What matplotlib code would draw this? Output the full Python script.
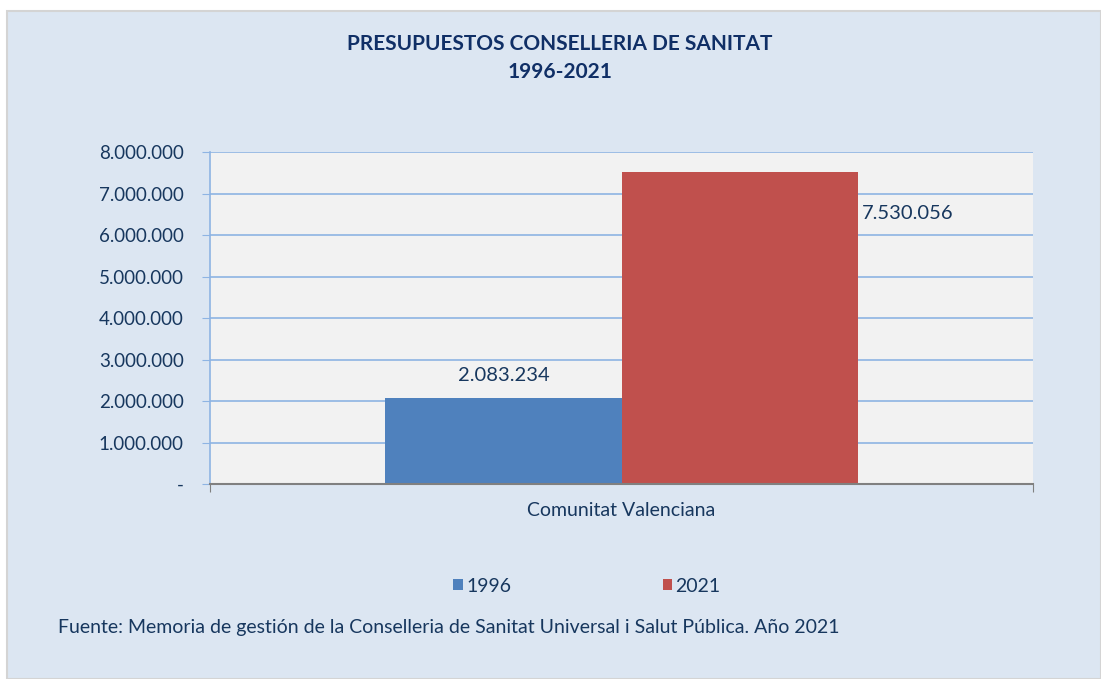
import matplotlib.pyplot as plt
from matplotlib.patches import Rectangle, Patch
from matplotlib.ticker import FuncFormatter

# datos
categoria = ['Comunitat Valenciana']
anyos = ['1996', '2021']
presupuesto = [2083234, 7530056]
colores = ['#4F81BD', '#C0504D']
ticks_y = [0, 1000000, 2000000, 3000000, 4000000, 5000000, 6000000, 7000000, 8000000]

texto = '#17375E'
plt.rcParams['font.family'] = ['Lato', 'DejaVu Sans']

fig = plt.figure(figsize=(11.01, 6.79), dpi=100)
fig.patch.set_facecolor('white')
# fondo del grafico
fig.patches.append(Rectangle((7 / 1101, 0), 1 - 7 / 1101, (679 - 11) / 679,
                             transform=fig.transFigure, facecolor='#DCE6F2',
                             edgecolor='#D4D4D4', linewidth=1.5, zorder=-10))

ax = fig.add_axes([210 / 1101, (679 - 484) / 679, 823 / 1101, 332 / 679])
ax.set_facecolor('#F2F2F2')

ancho = 0.287
for i, (a, v) in enumerate(zip(anyos, presupuesto)):
    x = (i - 0.5) * ancho
    ax.bar(x, v, width=ancho, color=colores[i], label=a, zorder=3)

# etiquetas de valor
fmt = lambda v: f'{v:,.0f}'.replace(',', '.')
ax.text(-0.5 * ancho, presupuesto[0] + 530000, fmt(presupuesto[0]),
        ha='center', va='center', fontsize=14.5, color=texto)
ax.text(ancho + 0.005, presupuesto[1] - 1000000, fmt(presupuesto[1]),
        ha='left', va='center', fontsize=14.5, color=texto)

ax.set_xlim(-0.5, 0.5)
ax.set_ylim(0, 8000000)
ax.set_yticks(ticks_y)
ax.yaxis.set_major_formatter(FuncFormatter(lambda v, p: '-' if v == 0 else fmt(v)))
ax.grid(axis='y', color='#8EB4E3', linewidth=1.2, zorder=0)
ax.set_axisbelow(True)

ax.set_xticks([-0.5, 0.5])
ax.set_xticklabels(['', ''])
ax.tick_params(axis='x', direction='out', length=6, color='#808080')
ax.tick_params(axis='y', direction='out', length=6, color='#8EB4E3',
               labelsize=13.5, labelcolor=texto, pad=13)
ax.text(0, -0.08, categoria[0], transform=ax.get_xaxis_transform(),
        ha='center', va='center', fontsize=14, color=texto)

for s in ['top', 'right']:
    ax.spines[s].set_visible(False)
ax.spines['left'].set_color('#8EB4E3')
ax.spines['left'].set_linewidth(1.2)
ax.spines['bottom'].set_color('#808080')
ax.spines['bottom'].set_linewidth(1.5)
ax.spines['bottom'].set_zorder(4)

fig.text(560 / 1101, 1 - 58 / 679, 'PRESUPUESTOS CONSELLERIA DE SANITAT\n1996-2021',
         ha='center', va='center', fontsize=15, fontweight='bold', color='#102F66',
         linespacing=1.45)

handles = [Patch(facecolor=c, label=a) for c, a in zip(colores, anyos)]
fig.legend(handles=handles, loc='center', bbox_to_anchor=(587 / 1101, 1 - 586 / 679),
           ncol=2, frameon=False, handlelength=0.5, handleheight=0.5,
           handletextpad=0.15, columnspacing=7.8, fontsize=14, labelcolor=texto)

fig.text(58 / 1101, 1 - 627 / 679,
         'Fuente: Memoria de gestión de la Conselleria de Sanitat Universal i Salut Pública. Año 2021',
         ha='left', va='center', fontsize=14, color=texto)

fig.savefig('out.png', dpi=100)
